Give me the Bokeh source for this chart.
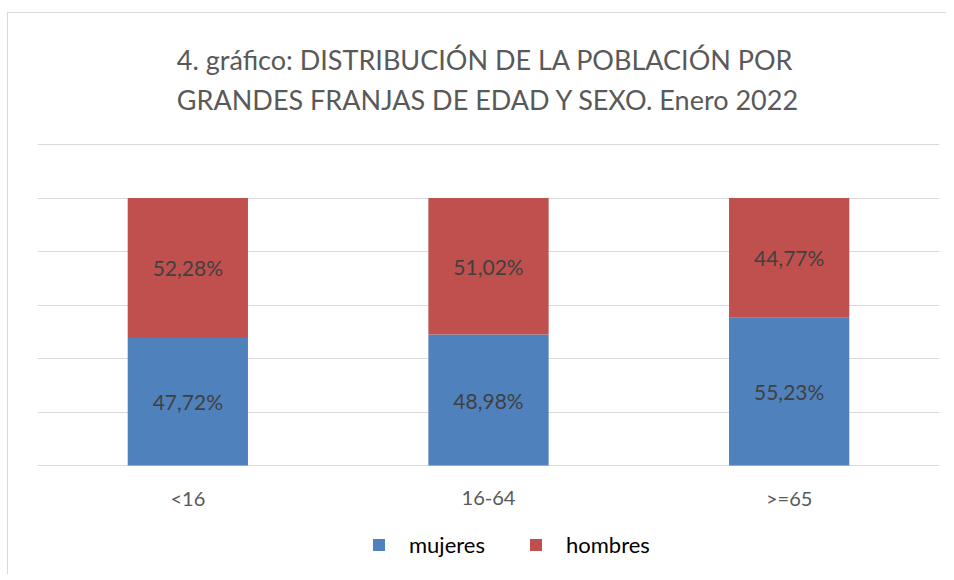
from bokeh.plotting import figure
from bokeh.models import ColumnDataSource, FixedTicker, Title, Legend, LegendItem
from bokeh.core.properties import value
from bokeh.embed import file_html
from bokeh.resources import INLINE

categories = ["<16", "16-64", ">=65"]
mujeres = [47.72, 48.98, 55.23]
hombres = [52.28, 51.02, 44.77]
series_names = ["mujeres", "hombres"]
colors = ["#4F81BD", "#C0504D"]
title_text = ("4. gráfico: DISTRIBUCIÓN DE LA POBLACIÓN POR\n"
              "GRANDES FRANJAS DE EDAD Y SEXO. Enero 2022")
y_ticks = [0, 20, 40, 60, 80, 100, 120]

FONT = "Lato"

def fmt(v):
    return f"{v:.2f}".replace(".", ",") + "%"

src = ColumnDataSource(dict(cat=categories, mujeres=mujeres, hombres=hombres))

# frame extends below the zero line to hold category labels and legend
p = figure(x_range=categories, y_range=(-40.0, 120.4), frame_width=902, frame_height=429,
           output_backend="svg", toolbar_location=None, y_axis_location=None,
           x_axis_location=None,
           min_border_left=29, min_border_right=7, min_border_top=130,
           min_border_bottom=2, outline_line_color=None)

renderers = p.vbar_stack(series_names, x="cat", width=0.4, source=src,
                         color=colors, line_color=None)

# data labels
lx, ly, lt = [], [], []
for c, m, h in zip(categories, mujeres, hombres):
    lx += [c, c]
    ly += [m / 2, m + h / 2]
    lt += [fmt(m), fmt(h)]
lsrc = ColumnDataSource(dict(x=lx, y=ly, t=lt))
p.text(x="x", y="y", text="t", source=lsrc, text_align="center",
       text_baseline="middle", text_font=value(FONT), text_font_size="21px",
       text_color="#404040")

# category labels under the bars
csrc = ColumnDataSource(dict(x=categories, y=[-12] * len(categories), t=categories))
p.text(x="x", y="y", text="t", source=csrc, text_align="center",
       text_baseline="middle", text_font=value(FONT), text_font_size="20px",
       text_color="#595959")

title = Title(text=title_text, align="center", text_font=FONT,
              text_font_size="27px", text_font_style="normal", text_color="#595959",
              text_line_height=1.2, standoff=55)
p.add_layout(title, "above")

p.ygrid.ticker = FixedTicker(ticks=y_ticks)
p.ygrid.grid_line_color = "#d9d9d9"
p.ygrid.grid_line_width = 1
p.xgrid.grid_line_color = None
p.x_range.range_padding = 0

legend = Legend(items=[LegendItem(label=n, renderers=[r]) for n, r in zip(series_names, renderers)],
                orientation="horizontal", location=(334, 14),
                glyph_width=15, glyph_height=15, label_standoff=23, spacing=43,
                padding=0, margin=0, border_line_color=None, background_fill_alpha=0,
                label_text_font=FONT, label_text_font_size="22px", label_text_color="#000000")
p.add_layout(legend, "center")

p.styles = {"border-left": "1px solid #d9d9d9", "border-top": "1px solid #d9d9d9",
            "margin-top": "12px", "margin-left": "7px"}

open("out.html", "w").write(file_html(p, INLINE))
